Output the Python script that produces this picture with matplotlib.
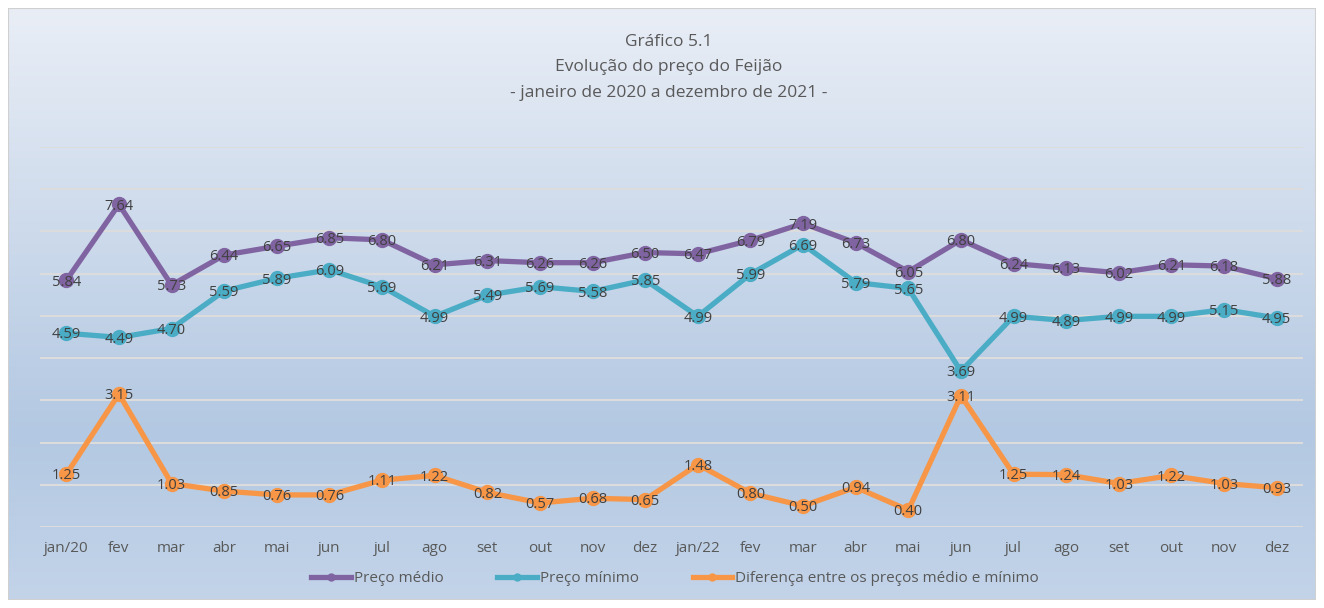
import numpy as np
import matplotlib.pyplot as plt
from matplotlib.patches import Rectangle
from matplotlib.colors import LinearSegmentedColormap

plt.rcParams['font.family'] = ['Open Sans', 'DejaVu Sans']

meses = ['jan/20', 'fev', 'mar', 'abr', 'mai', 'jun', 'jul', 'ago', 'set', 'out', 'nov', 'dez',
         'jan/22', 'fev', 'mar', 'abr', 'mai', 'jun', 'jul', 'ago', 'set', 'out', 'nov', 'dez']
preco_medio = [5.84, 7.64, 5.73, 6.44, 6.65, 6.85, 6.80, 6.21, 6.31, 6.26, 6.26, 6.50,
               6.47, 6.79, 7.19, 6.73, 6.05, 6.80, 6.24, 6.13, 6.02, 6.21, 6.18, 5.88]
preco_minimo = [4.59, 4.49, 4.70, 5.59, 5.89, 6.09, 5.69, 4.99, 5.49, 5.69, 5.58, 5.85,
                4.99, 5.99, 6.69, 5.79, 5.65, 3.69, 4.99, 4.89, 4.99, 4.99, 5.15, 4.95]
diferenca = [1.25, 3.15, 1.03, 0.85, 0.76, 0.76, 1.11, 1.22, 0.82, 0.57, 0.68, 0.65,
             1.48, 0.80, 0.50, 0.94, 0.40, 3.11, 1.25, 1.24, 1.03, 1.22, 1.03, 0.93]

fig = plt.figure(figsize=(13.24, 6.08), dpi=100)
fig.patch.set_facecolor('white')

# fundo em degradê
bg = fig.add_axes([8/1324, 8/608, 1308/1324, 592/608])
cmap = LinearSegmentedColormap.from_list('bg', [(0, '#e9eef6'), (0.72, '#b3c8e2'), (1, '#c3d4e9')])
grad = np.linspace(0, 1, 256).reshape(-1, 1)
bg.imshow(grad, aspect='auto', cmap=cmap, extent=[0, 1, 0, 1], origin='upper')
bg.add_patch(Rectangle((0, 0), 1, 1, transform=bg.transAxes, fill=False, ec='#d0d0d0', lw=1.5))
bg.set_axis_off()

ax = fig.add_axes([40/1324, 1 - 527/608, 1263/1324, 380/608])
ax.set_facecolor('none')
x = np.arange(len(meses))

series = [(preco_medio, '#8064a2', 'Preço médio'),
          (preco_minimo, '#4bacc6', 'Preço mínimo'),
          (diferenca, '#f79646', 'Diferença entre os preços médio e mínimo')]
for vals, cor, nome in series:
    ax.plot(x, vals, color=cor, lw=3.8, marker='o', ms=10, label=nome, zorder=3)
    for xi, v in zip(x, vals):
        ax.text(xi, v - 0.04, f'{v:.2f}', ha='center', va='center', fontsize=10.5, color='#404040', zorder=4)

ax.set_xlim(-0.5, len(meses) - 0.5)
ax.set_ylim(0, 9)
ax.set_yticks(np.arange(0, 10, 1))
ax.yaxis.grid(True, color='#dcdcdc', lw=1.5)
ax.set_axisbelow(True)
ax.tick_params(axis='y', left=False, labelleft=False)
ax.tick_params(axis='x', length=0, pad=10, labelsize=11, labelcolor='#595959')
ax.set_xticks(x)
ax.set_xticklabels(meses)
for s in ax.spines.values():
    s.set_visible(False)

fig.text(0.505, 1 - 42/608, 'Gráfico 5.1', ha='center', va='center', fontsize=12.5, color='#595959')
fig.text(0.505, 1 - 67/608, 'Evolução do preço do Feijão', ha='center', va='center', fontsize=12.5, color='#595959')
fig.text(0.505, 1 - 93/608, '- janeiro de 2020 a dezembro de 2021 -', ha='center', va='center', fontsize=12.5, color='#595959')

leg = fig.legend(loc='center', bbox_to_anchor=(0.51, 1 - 579/608), ncol=3, frameon=False,
                 fontsize=11, handlelength=2.6, markerscale=0.5, columnspacing=3.5, handletextpad=0.2)
for t in leg.get_texts():
    t.set_color('#595959')

fig.savefig('out.png', dpi=100)
